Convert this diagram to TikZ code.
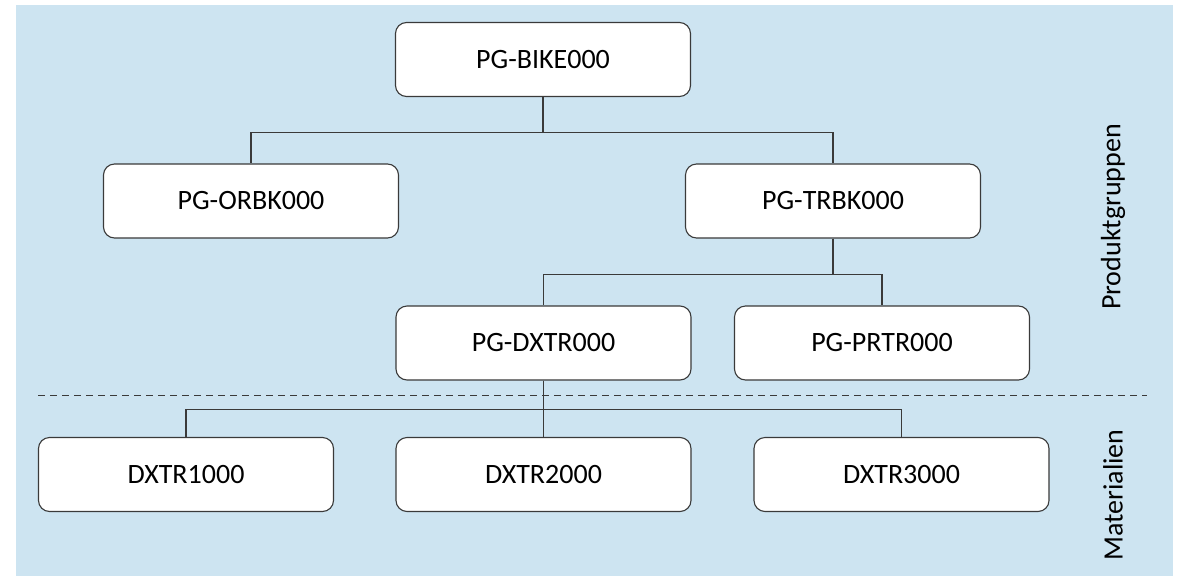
\documentclass[tikz,border=0pt]{standalone}
\usepackage{fontspec}
\setmainfont{Carlito}
\usepackage{tikz}
\definecolor{bgblue}{HTML}{CDE4F1}
\definecolor{linegrey}{HTML}{3A3A3A}

\begin{document}
\begin{tikzpicture}[x=1pt,y=-1pt,
                    line width=1.1pt,draw=linegrey,
                    group node/.style={rectangle,rounded corners=11pt,draw=linegrey,fill=white,
                                       minimum width=295pt,minimum height=74pt,font=\fontsize{28}{32}\selectfont},
                    side label/.style={rotate=90,font=\fontsize{28}{32}\selectfont}]
      \useasboundingbox (0,0) rectangle (1178,576);
      \fill[bgblue] (16,5) rectangle (1173,576);

      \node[group node] (BIKE) at (543,59.5) {PG-BIKE000};
      \node[group node] (ORBK) at (251,201) {PG-ORBK000};
      \node[group node] (TRBK) at (833,201) {PG-TRBK000};
      \node[group node] (DXTR) at (543.5,343) {PG-DXTR000};
      \node[group node] (PRTR) at (882,343) {PG-PRTR000};
      \node[group node] (M1) at (186,474.5) {DXTR1000};
      \node[group node] (M2) at (543.5,474.5) {DXTR2000};
      \node[group node] (M3) at (901.5,474.5) {DXTR3000};

      \node[side label] (PG) at (1113,217) {Produktgruppen};
      \node[side label] (MAT) at (1113,495) {Materialien};

    % level separator
      \draw[dashed,line width=0.9pt,dash pattern=on 7pt off 5pt] (38,395) -- (1147,395);

    % connectors
      \draw (BIKE.south) -- ++(0,35) -| (ORBK.north);
      \draw (BIKE.south) -- ++(0,35) -| (TRBK.north);
    %
      \draw (TRBK.south) -- ++(0,36) -| (DXTR.north);
      \draw (TRBK.south) -- ++(0,36) -| (PRTR.north);
    %
      \draw (DXTR.south) -- ++(0,29) -| (M1.north);
      \draw (DXTR.south) -- (M2.north);
      \draw (DXTR.south) -- ++(0,29) -| (M3.north);
    \end{tikzpicture}
\end{document}
